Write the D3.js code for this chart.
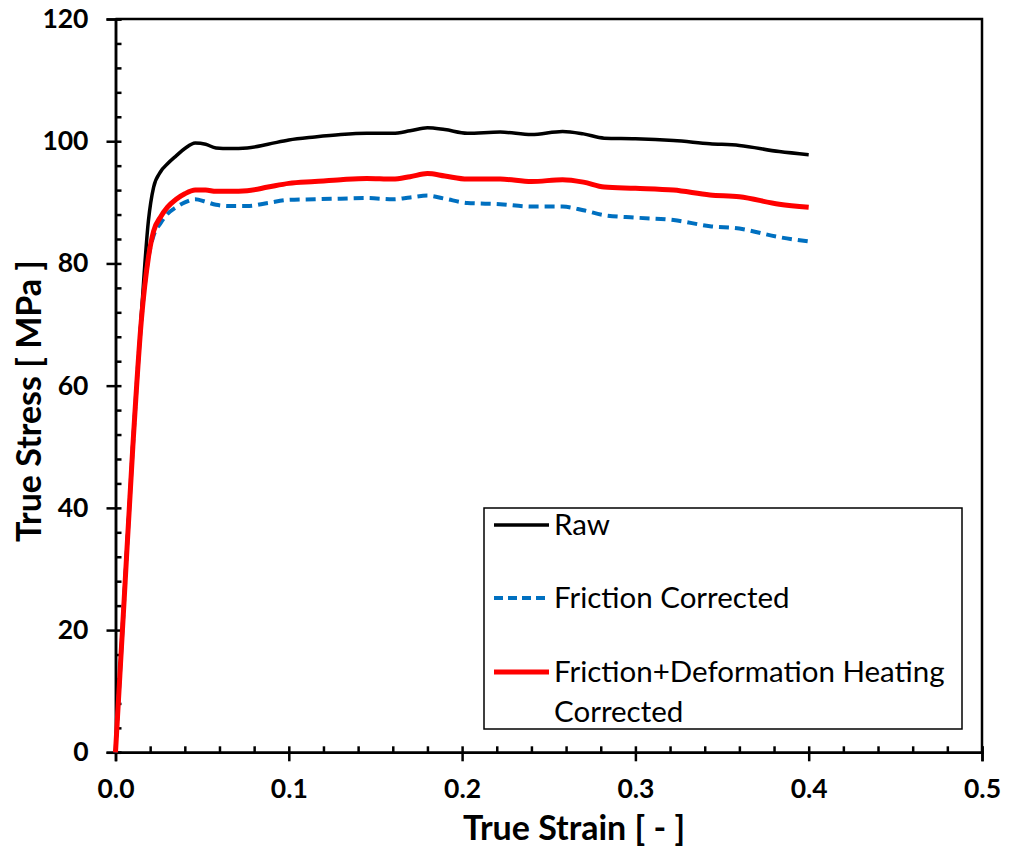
<!DOCTYPE html>
<html>
<head>
<meta charset="utf-8">
<script src="https://cdn.jsdelivr.net/npm/d3@7"></script>
<style>
  html, body { margin: 0; padding: 0; background: #fff; }
  svg { display: block; }
  text { font-family: Lato, "Open Sans", sans-serif; }
</style>
</head>
<body>
<svg id="chart" width="1009" height="850"></svg>
<script>
// True strain sample points shared by all three curves
const strain = [0, 0.005, 0.010, 0.015, 0.019, 0.022, 0.026, 0.030, 0.035, 0.040,
  0.046, 0.052, 0.058, 0.066, 0.076, 0.088, 0.100, 0.115, 0.130, 0.145,
  0.160, 0.170, 0.180, 0.190, 0.203, 0.222, 0.240, 0.258, 0.270, 0.282,
  0.300, 0.322, 0.343, 0.360, 0.383, 0.400];

// True stress [MPa] for each curve
const rawStress = [0, 25.5, 50.5, 72, 87, 92.5, 95, 96.3, 97.6, 98.8,
  99.7, 99.5, 98.9, 98.8, 98.9, 99.5, 100.2, 100.7, 101.1, 101.3,
  101.3, 101.7, 102.2, 101.9, 101.3, 101.5, 101.1, 101.6, 101.2, 100.5,
  100.4, 100.1, 99.6, 99.3, 98.3, 97.8];

const frictionStress = [0, 25, 50, 71, 81, 84.6, 86.6, 88.1, 89.2, 90.0,
  90.5, 90.1, 89.6, 89.4, 89.4, 89.9, 90.4, 90.5, 90.6, 90.7,
  90.5, 90.8, 91.1, 90.6, 89.9, 89.7, 89.3, 89.3, 88.7, 87.9,
  87.5, 87.1, 86.1, 85.7, 84.3, 83.6];

const heatingStress = [0, 25, 50, 71, 81, 85.3, 87.6, 89.2, 90.5, 91.4,
  92.0, 92.0, 91.8, 91.8, 91.9, 92.5, 93.1, 93.4, 93.7, 93.9,
  93.8, 94.2, 94.7, 94.3, 93.8, 93.8, 93.4, 93.7, 93.3, 92.5,
  92.3, 92.0, 91.2, 90.9, 89.7, 89.2];

const seriesNames = ["Raw", "Friction Corrected", "Friction+Deformation Heating Corrected"];
const xTickValues = [0, 0.1, 0.2, 0.3, 0.4, 0.5];
const yTickValues = [0, 20, 40, 60, 80, 100, 120];

const svg = d3.select("#chart");
const plotLeft = 115.5, plotRight = 982, plotTop = 19, plotBottom = 752.3;

const x = d3.scaleLinear().domain([0, 0.5]).range([plotLeft, plotRight]);
const y = d3.scaleLinear().domain([0, 120]).range([plotBottom, plotTop]);

// Plot frame (top and right edges)
svg.append("path")
  .attr("d", `M${plotLeft},${plotTop}H${plotRight}V${plotBottom}`)
  .attr("fill", "none").attr("stroke", "#000").attr("stroke-width", 2.5);

function styleAxis(g) {
  g.selectAll("path.domain").attr("stroke", "#000").attr("stroke-width", 2.5);
  g.selectAll(".tick line").attr("stroke", "#000").attr("stroke-width", 2.5);
}

// X axis: outward major ticks with labels, inward major and minor ticks
const gx = svg.append("g").attr("transform", `translate(0,${plotBottom})`);
gx.call(d3.axisBottom(x).tickValues(xTickValues).tickSize(9).tickPadding(18)
  .tickFormat(d3.format(".1f")));
styleAxis(gx);
gx.selectAll("text").attr("font-size", 26.5).attr("font-weight", "bold").attr("fill", "#000");

const gxIn = svg.append("g").attr("transform", `translate(0,${plotBottom})`);
gxIn.call(d3.axisBottom(x).tickValues(d3.range(0, 0.5001, 0.02)).tickSize(-6).tickFormat(""));
styleAxis(gxIn);

// Y axis
const gy = svg.append("g").attr("transform", `translate(${plotLeft},0)`);
gy.call(d3.axisLeft(y).tickValues(yTickValues).tickSize(9).tickPadding(18));
styleAxis(gy);
gy.selectAll("text").attr("font-size", 26.5).attr("font-weight", "bold").attr("fill", "#000");

const gyIn = svg.append("g").attr("transform", `translate(${plotLeft},0)`);
gyIn.call(d3.axisLeft(y).tickValues(d3.range(0, 120.001, 4)).tickSize(-6).tickFormat(""));
styleAxis(gyIn);

// Axis titles
svg.append("text")
  .attr("x", 574).attr("y", 840)
  .attr("text-anchor", "middle")
  .attr("font-size", 34).attr("font-weight", "bold")
  .text("True Strain [ - ]");

svg.append("text")
  .attr("transform", `translate(41,401) rotate(-90)`)
  .attr("text-anchor", "middle")
  .attr("font-size", 34).attr("font-weight", "bold")
  .text("True Stress [ MPa ]");

// Curves
const line = d3.line()
  .x(d => x(d[0]))
  .y(d => y(d[1]))
  .curve(d3.curveMonotoneX);

const styles = [
  { values: rawStress, color: "#000000", width: 3.5, dash: null },
  { values: frictionStress, color: "#0070C0", width: 4, dash: "10,6" },
  { values: heatingStress, color: "#FF0000", width: 5, dash: null }
];

styles.forEach(s => {
  svg.append("path")
    .datum(strain.map((e, i) => [e, s.values[i]]))
    .attr("d", line)
    .attr("fill", "none")
    .attr("stroke", s.color)
    .attr("stroke-width", s.width)
    .attr("stroke-linejoin", "round")
    .attr("stroke-dasharray", s.dash);
});

// Legend
const legend = svg.append("g");
legend.append("rect")
  .attr("x", 484).attr("y", 508).attr("width", 478).attr("height", 221)
  .attr("fill", "#fff").attr("stroke", "#000").attr("stroke-width", 1.5);

const legendRows = [525, 598, 672];
const legendWidths = [3.5, 4, 5];
styles.forEach((s, i) => {
  legend.append("line")
    .attr("x1", 494).attr("x2", 549)
    .attr("y1", legendRows[i]).attr("y2", legendRows[i])
    .attr("stroke", s.color).attr("stroke-width", legendWidths[i])
    .attr("stroke-dasharray", s.dash ? "9,5" : null);
});

const legendFont = 29.5;
legend.append("text").attr("x", 554).attr("y", legendRows[0] + 10)
  .attr("font-size", legendFont).text(seriesNames[0]);
legend.append("text").attr("x", 554).attr("y", legendRows[1] + 10)
  .attr("font-size", legendFont).text(seriesNames[1]);
legend.append("text").attr("x", 554).attr("y", legendRows[2] + 10)
  .attr("font-size", legendFont).text("Friction+Deformation Heating");
legend.append("text").attr("x", 554).attr("y", legendRows[2] + 50)
  .attr("font-size", legendFont).text("Corrected");
</script>
</body>
</html>
